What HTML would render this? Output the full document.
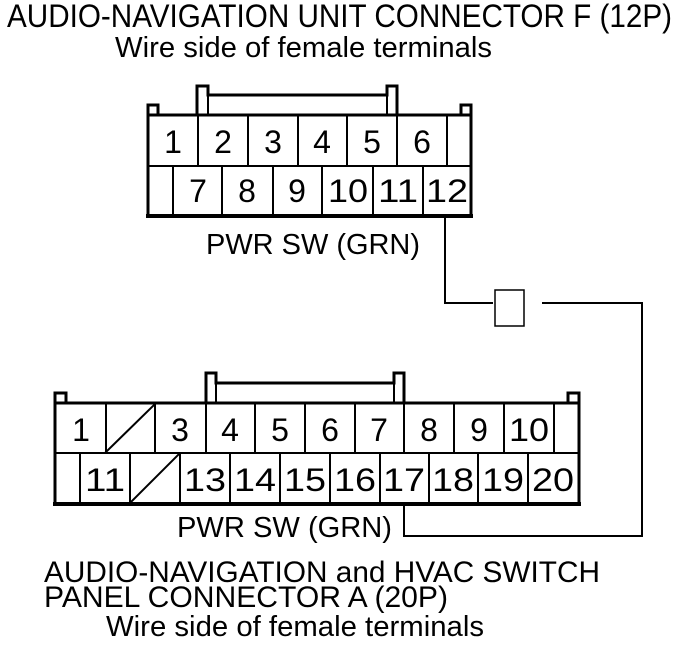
<!DOCTYPE html>
<html><head><meta charset="utf-8"><style>
html,body{margin:0;padding:0;background:#fff;width:688px;height:650px;overflow:hidden}
svg{display:block}
text{font-family:"Liberation Sans",Arial,sans-serif;fill:#000}
</style></head><body>
<svg width="688" height="650" viewBox="0 0 688 650" xmlns="http://www.w3.org/2000/svg">
<g fill="none" stroke="#000" stroke-linecap="square">
<!-- Top connector -->
<path d="M148,216 V105 H158 V115 H197 V86 H208 V95 H387 V86 H397 V115 H461 V105 H471 V216 Z" stroke-width="3"/>
<line x1="208" y1="95" x2="208" y2="115" stroke-width="2"/>
<line x1="387" y1="95" x2="387" y2="115" stroke-width="2"/>
<line x1="148" y1="115" x2="471" y2="115" stroke-width="3"/>
<line x1="148" y1="166" x2="471" y2="166" stroke-width="2"/>
<line x1="148" y1="216" x2="471" y2="216" stroke-width="4"/>
<g stroke-width="2">
<line x1="198" y1="115" x2="198" y2="166"/><line x1="248" y1="115" x2="248" y2="166"/>
<line x1="298" y1="115" x2="298" y2="166"/><line x1="347" y1="115" x2="347" y2="166"/>
<line x1="397" y1="115" x2="397" y2="166"/><line x1="447" y1="115" x2="447" y2="166"/>
<line x1="173" y1="166" x2="173" y2="216"/><line x1="222" y1="166" x2="222" y2="216"/>
<line x1="273" y1="166" x2="273" y2="216"/><line x1="322" y1="166" x2="322" y2="216"/>
<line x1="373" y1="166" x2="373" y2="216"/><line x1="423" y1="166" x2="423" y2="216"/>
</g>
<!-- Bottom connector -->
<path d="M55,504 V393 H66 V403 H206 V373 H216 V383 H394 V373 H404 V403 H568 V393 H579 V504 Z" stroke-width="3"/>
<line x1="216" y1="383" x2="216" y2="403" stroke-width="2"/>
<line x1="394" y1="383" x2="394" y2="403" stroke-width="2"/>
<line x1="55" y1="403" x2="579" y2="403" stroke-width="3"/>
<line x1="55" y1="453" x2="579" y2="453" stroke-width="2"/>
<line x1="55" y1="504" x2="579" y2="504" stroke-width="4"/>
<g stroke-width="2">
<line x1="106" y1="403" x2="106" y2="453"/><line x1="155" y1="403" x2="155" y2="453"/>
<line x1="206" y1="403" x2="206" y2="453"/><line x1="255" y1="403" x2="255" y2="453"/>
<line x1="305" y1="403" x2="305" y2="453"/><line x1="355" y1="403" x2="355" y2="453"/>
<line x1="404" y1="403" x2="404" y2="453"/><line x1="454" y1="403" x2="454" y2="453"/>
<line x1="504" y1="403" x2="504" y2="453"/><line x1="554" y1="403" x2="554" y2="453"/>
<line x1="80" y1="453" x2="80" y2="504"/><line x1="130" y1="453" x2="130" y2="504"/>
<line x1="180" y1="453" x2="180" y2="504"/><line x1="230" y1="453" x2="230" y2="504"/>
<line x1="280" y1="453" x2="280" y2="504"/><line x1="330" y1="453" x2="330" y2="504"/>
<line x1="380" y1="453" x2="380" y2="504"/><line x1="429" y1="453" x2="429" y2="504"/>
<line x1="478" y1="453" x2="478" y2="504"/><line x1="528" y1="453" x2="528" y2="504"/>
<line x1="106" y1="452" x2="155" y2="404"/>
<line x1="130" y1="503" x2="179" y2="454"/>
</g>
<!-- wires -->
<path d="M445,217 V303 H492" stroke-width="2"/>
<rect x="495" y="290" width="29" height="36" stroke-width="1.5"/>
<path d="M543,303 H642 V536 H404 V505" stroke-width="2"/>
</g>
<!-- titles -->
<text x="7" y="27" font-size="32" textLength="665" lengthAdjust="spacingAndGlyphs">AUDIO-NAVIGATION UNIT CONNECTOR F (12P)</text>
<text x="115" y="57" font-size="29" textLength="377" lengthAdjust="spacingAndGlyphs">Wire side of female terminals</text>
<text x="44" y="582" font-size="30" textLength="556" lengthAdjust="spacingAndGlyphs">AUDIO-NAVIGATION and HVAC SWITCH</text>
<text x="44" y="607" font-size="30" textLength="404" lengthAdjust="spacingAndGlyphs">PANEL CONNECTOR A (20P)</text>
<text x="106" y="636" font-size="29" textLength="378" lengthAdjust="spacingAndGlyphs">Wire side of female terminals</text>
<text x="206" y="254" font-size="29" textLength="214" lengthAdjust="spacingAndGlyphs">PWR SW (GRN)</text>
<text x="177" y="537" font-size="29" textLength="215" lengthAdjust="spacingAndGlyphs">PWR SW (GRN)</text>
<!-- top pin numbers -->
<g font-size="32" text-anchor="middle">
<text x="173" y="153">1</text><text x="223" y="153">2</text><text x="273" y="153">3</text>
<text x="322" y="153">4</text><text x="372" y="153">5</text><text x="422" y="153">6</text>
<text x="198" y="202">7</text><text x="247" y="202">8</text><text x="297" y="202">9</text>
<text x="348" y="202" textLength="40" lengthAdjust="spacingAndGlyphs">10</text>
<text x="398" y="202" textLength="40" lengthAdjust="spacingAndGlyphs">11</text>
<text x="447" y="202" textLength="42" lengthAdjust="spacingAndGlyphs">12</text>
<!-- bottom pin numbers -->
<text x="81" y="441">1</text><text x="180" y="441">3</text><text x="230" y="441">4</text>
<text x="280" y="441">5</text><text x="330" y="441">6</text><text x="379" y="441">7</text>
<text x="429" y="441">8</text><text x="479" y="441">9</text>
<text x="529" y="441" textLength="40" lengthAdjust="spacingAndGlyphs">10</text>
<text x="105" y="491" textLength="40" lengthAdjust="spacingAndGlyphs">11</text>
<text x="205" y="491" textLength="42" lengthAdjust="spacingAndGlyphs">13</text>
<text x="255" y="491" textLength="42" lengthAdjust="spacingAndGlyphs">14</text>
<text x="305" y="491" textLength="42" lengthAdjust="spacingAndGlyphs">15</text>
<text x="355" y="491" textLength="42" lengthAdjust="spacingAndGlyphs">16</text>
<text x="404" y="491" textLength="42" lengthAdjust="spacingAndGlyphs">17</text>
<text x="453" y="491" textLength="42" lengthAdjust="spacingAndGlyphs">18</text>
<text x="503" y="491" textLength="42" lengthAdjust="spacingAndGlyphs">19</text>
<text x="553" y="491" textLength="42" lengthAdjust="spacingAndGlyphs">20</text>
</g>
</svg>
</body></html>
